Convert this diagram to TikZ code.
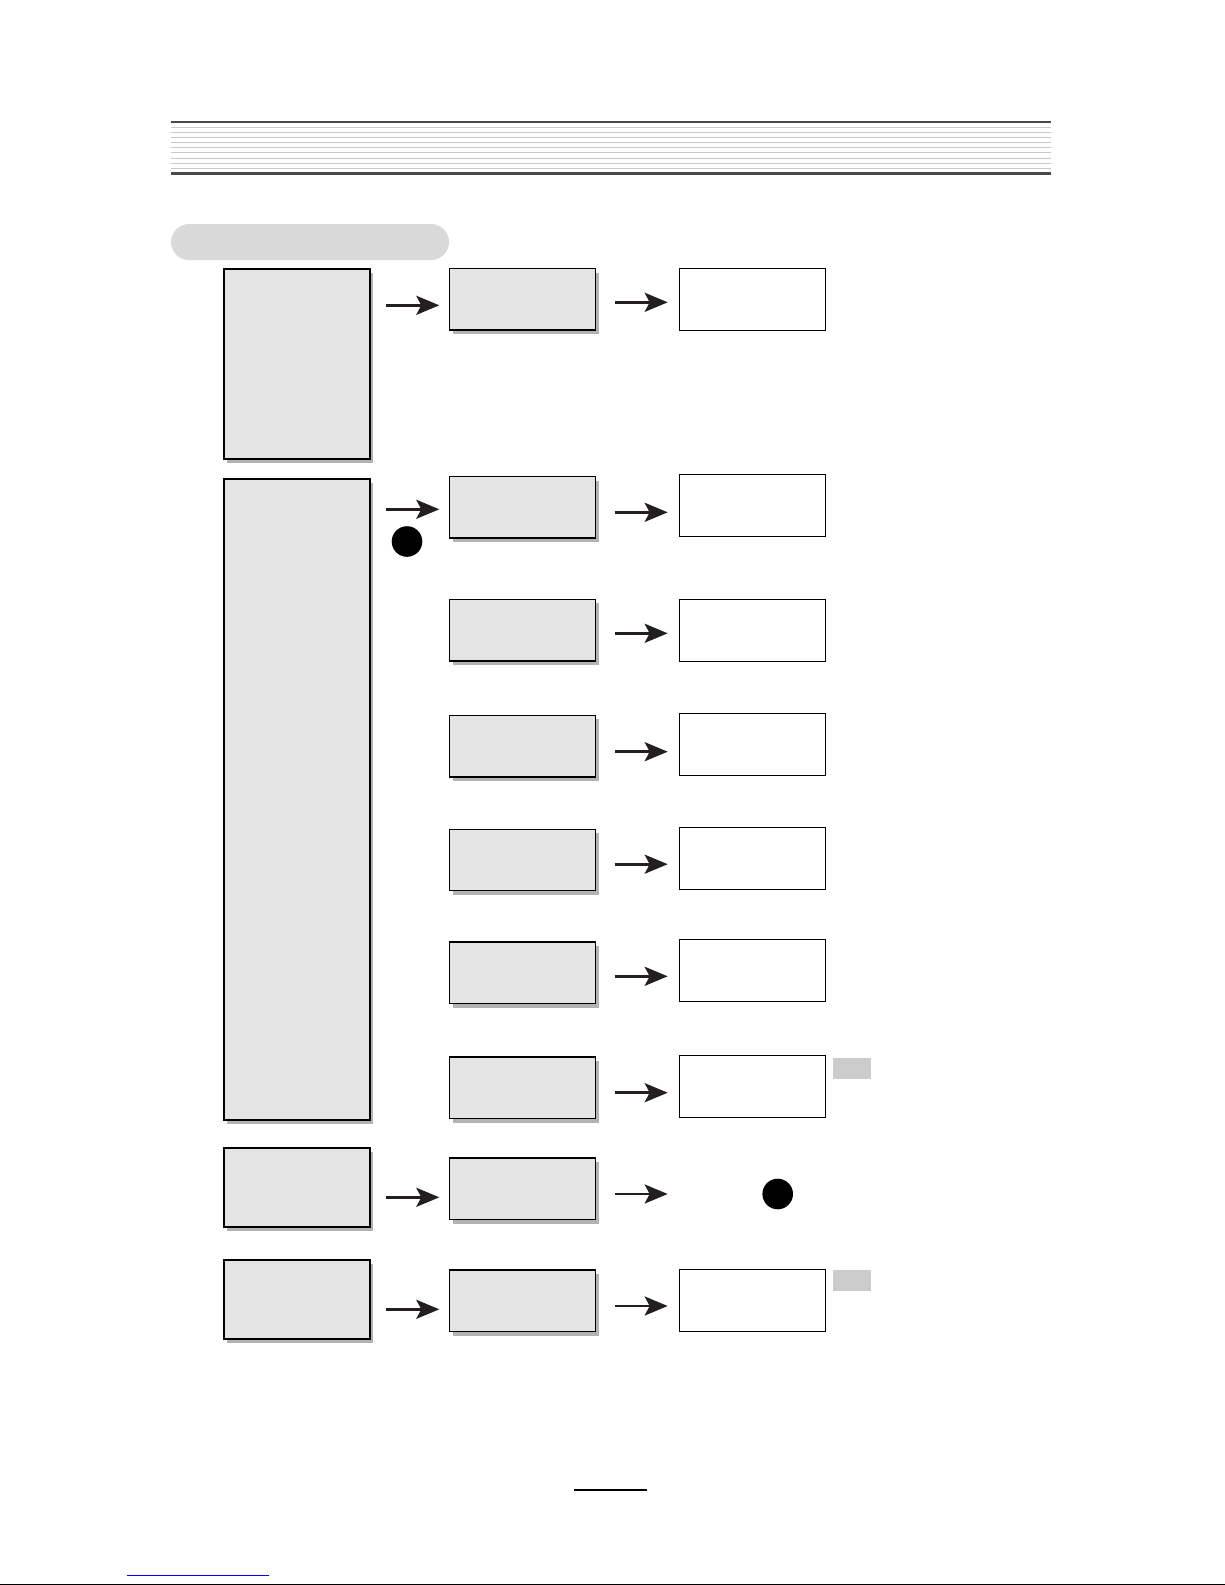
\documentclass[tikz,border=0pt]{standalone}
\usetikzlibrary{arrows.meta,shadows}
\definecolor{boxgray}{RGB}{228,228,228}
\definecolor{shadowgray}{RGB}{179,179,179}
\definecolor{pillgray}{RGB}{217,217,217}
\definecolor{taggray}{RGB}{204,204,204}
\definecolor{rulegray}{RGB}{200,200,200}
\definecolor{ruledark}{RGB}{74,74,74}
\definecolor{arrowblack}{RGB}{35,31,32}
\definecolor{linkblue}{RGB}{0,0,255}
\newcommand{\mylink}[4]{\draw[#1] (#2.east |- #4) -- (#3.west |- #4);}
\begin{document}
\begin{tikzpicture}[x=1pt,y=1pt,
  shadowed/.style={drop shadow={shadow xshift=3pt,shadow yshift=-4pt,fill=shadowgray,opacity=1}},
  bigbox/.style={draw=black,line width=2pt,fill=boxgray,minimum width=146pt,inner sep=0pt,outer sep=0pt,shadowed},
  midbox/.style={draw=black,line width=1.2pt,fill=boxgray,minimum width=146.2pt,minimum height=61.5pt,inner sep=0pt,outer sep=0pt,shadowed},
  resbox/.style={draw=black,line width=1pt,fill=white,minimum width=146.4pt,minimum height=61.7pt,inner sep=0pt,outer sep=0pt},
  bigdot/.style={circle,fill=black,minimum size=30.6pt,inner sep=0pt,outer sep=0pt},
  tagbox/.style={fill=taggray,minimum width=38pt,minimum height=21pt,inner sep=0pt,outer sep=0pt},
  arrbase/.style={draw=arrowblack,line width=2.7pt,-{Stealth[length=23pt,width=19pt,inset=5pt]}},
  arrA/.style={arrbase,shorten <=16.5pt,shorten >=10.2pt},
  arrB/.style={arrbase,shorten <=19.3pt,shorten >=11.6pt}]
\fill[white] (0,0) rectangle (1225,-1585);
\useasboundingbox (0,0) rectangle (1225,-1585);
% header rules
\draw[ruledark,line width=2pt] (171,-121.7) -- (1051,-121.7);
\foreach \yy in {127.3,132.3,137.3,142.3,147.3,152.3,158,163,168}
  \draw[rulegray,line width=1pt] (171,-\yy) -- (1051,-\yy);
\draw[ruledark,line width=3pt] (171,-173.5) -- (1051,-173.5);
% pill
\fill[pillgray,rounded corners=18pt] (171,-224) rectangle (449,-260);
% left column
\node[bigbox,minimum height=190pt] (L1) at (296.5,-363.5) {};
\node[bigbox,minimum height=641.6pt] (L2) at (296.5,-799.5) {};
\node[bigbox,minimum height=79pt] (L3) at (296.5,-1187.8) {};
\node[bigbox,minimum height=78.4pt] (L4) at (296.5,-1299.5) {};
% middle column
\node[midbox] (M1) at (522.6,-299.3) {};
\node[midbox] (M2) at (522.6,-507.3) {};
\node[midbox] (M3) at (522.6,-630.2) {};
\node[midbox] (M4) at (522.6,-746.2) {};
\node[midbox] (M5) at (522.6,-860.1) {};
\node[midbox] (M6) at (522.6,-972.8) {};
\node[midbox] (M7) at (522.6,-1087.8) {};
\node[midbox] (M8) at (522.6,-1188.8) {};
\node[midbox] (M9) at (522.6,-1300.8) {};
% right column
\node[resbox] (R1) at (752.5,-299.3) {};
\node[resbox] (R2) at (752.5,-505.3) {};
\node[resbox] (R3) at (752.5,-630.3) {};
\node[resbox] (R4) at (752.5,-744.2) {};
\node[resbox] (R5) at (752.5,-858.6) {};
\node[resbox] (R6) at (752.5,-970.3) {};
\node[resbox] (R7) at (752.5,-1086.3) {};
\node[resbox] (R9) at (752.5,-1300.3) {};
% dots and tags
\node[bigdot] (D1) at (407,-541.5) {};
\node[bigdot] (D2) at (777.7,-1194) {};
\node[tagbox] (T7) at (852,-1068.8) {};
\node[tagbox,minimum height=20.7pt] (T9) at (852,-1280.3) {};
% arrow rows
\coordinate (a1) at (0,-305.3);
\coordinate (a2) at (0,-509.3);
\coordinate (a8) at (0,-1197.3);
\coordinate (a9) at (0,-1309.3);
\coordinate (b1) at (0,-302.3);
\coordinate (b2) at (0,-512.3);
\coordinate (b3) at (0,-633.3);
\coordinate (b4) at (0,-751.7);
\coordinate (b5) at (0,-864.2);
\coordinate (b6) at (0,-976.3);
\coordinate (b7) at (0,-1092.7);
\coordinate (b8) at (0,-1194);
\coordinate (b9) at (0,-1306);
\mylink{arrA}{L1}{M1}{a1}
\mylink{arrA}{L2}{M2}{a2}
\mylink{arrA}{L3}{M8}{a8}
\mylink{arrA}{L4}{M9}{a9}
\mylink{arrB}{M1}{R1}{b1}
\mylink{arrB}{M2}{R2}{b2}
\mylink{arrB}{M3}{R3}{b3}
\mylink{arrB}{M4}{R4}{b4}
\mylink{arrB}{M5}{R5}{b5}
\mylink{arrB}{M6}{R6}{b6}
\mylink{arrB}{M7}{R7}{b7}
\mylink{{arrB,shorten >=94.7pt}}{M8}{D2}{b8}
\mylink{arrB}{M9}{R9}{b9}
% footer
\draw[black,line width=1.2pt] (574,-1490) -- (646.5,-1490);
\draw[linkblue,line width=1pt] (127,-1575) -- (269,-1575);
\draw[black,line width=1pt] (0,-1584) -- (1225,-1584);
\end{tikzpicture}
\end{document}
